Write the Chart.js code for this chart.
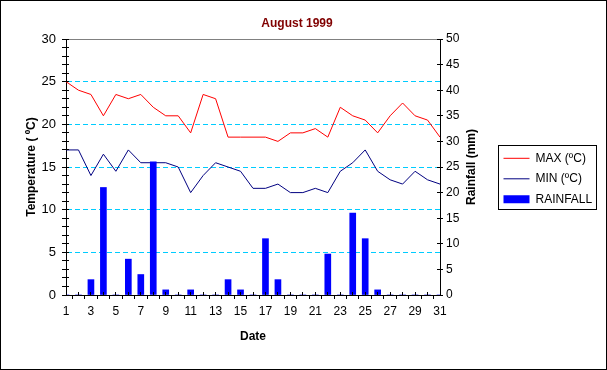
<!DOCTYPE html>
<html>
<head>
  <meta charset="UTF-8">
  <title>August 1999</title>
  <script src="https://cdnjs.cloudflare.com/ajax/libs/Chart.js/4.4.1/chart.umd.min.js"></script>
  <style>
    body { margin: 0; background: #fff; }
  </style>
</head>
<body>
  <canvas id="chart" width="607" height="370"></canvas>
  <script>
    // data
    var days = ['1','2','3','4','5','6','7','8','9','10','11','12','13','14','15','16',
                '17','18','19','20','21','22','23','24','25','26','27','28','29','30','31'];
    var maxTemp = [25, 24, 23.5, 21, 23.5, 23, 23.5, 22, 21, 21, 19, 23.5, 23, 18.5, 18.5, 18.5,
                   18.5, 18, 19, 19, 19.5, 18.5, 22, 21, 20.5, 19, 21, 22.5, 21, 20.5, 18.5];
    var minTemp = [17, 17, 14, 16.5, 14.5, 17, 15.5, 15.5, 15.5, 15, 12, 14, 15.5, 15, 14.5, 12.5,
                   12.5, 13, 12, 12, 12.5, 12, 14.5, 15.5, 17, 14.5, 13.5, 13, 14.5, 13.5, 13];
    var rainfall = [0, 0, 3, 21, 0, 7, 4, 26, 1, 0, 1, 0, 0, 3, 1, 0,
                    11, 3, 0, 0, 0, 8, 0, 16, 11, 1, 0, 0, 0, 0, 0];

    var FONT = "'Liberation Sans', Arial, sans-serif";
    var PAD_RIGHT = 13;
    Chart.defaults.font.family = FONT;
    Chart.defaults.font.size = 12;
    Chart.defaults.color = '#000';

    function align(p) { return Math.round(p - 0.5) + 0.5; }

    // outer frame, grey top line, inner half of the tick marks, right title, legend frame
    var extras = {
      id: 'extras',
      afterDraw: function(chart) {
        var ctx = chart.ctx, a = chart.chartArea;
        var x = chart.scales.x, y = chart.scales.y, y1 = chart.scales.y1;
        ctx.save();
        ctx.lineWidth = 1;

        ctx.strokeStyle = '#808080';
        ctx.beginPath();
        ctx.moveTo(a.left, align(a.top));
        ctx.lineTo(a.right, align(a.top));
        ctx.stroke();

        ctx.strokeStyle = '#000';
        ctx.beginPath();
        x.ticks.forEach(function(t, i) {
          var px = align(x.getPixelForTick(i));
          ctx.moveTo(px, x.top);
          ctx.lineTo(px, x.top - 3);
        });
        y.ticks.forEach(function(t, i) {
          var py = align(y.getPixelForTick(i));
          ctx.moveTo(y.right, py);
          ctx.lineTo(y.right + 3, py);
        });
        y1.ticks.forEach(function(t, i) {
          var py = align(y1.getPixelForTick(i));
          ctx.moveTo(y1.left, py);
          ctx.lineTo(y1.left - 3, py);
        });
        ctx.stroke();

        ctx.strokeRect(0.5, 0.5, chart.width - 1, chart.height - 1);

        var boxes = chart.legend.legendHitBoxes;
        if (boxes && boxes.length) {
          var l = Infinity, t = Infinity, r = -Infinity, b = -Infinity;
          boxes.forEach(function(h) {
            l = Math.min(l, h.left); t = Math.min(t, h.top);
            r = Math.max(r, h.left + h.width); b = Math.max(b, h.top + h.height);
          });
          ctx.strokeRect(align(l - 5), align(t - 6.5), Math.round(r - l + 9), Math.round(b - t + 11));
        }

        ctx.save();
        ctx.translate(y1.left + 31.5, (a.top + a.bottom) / 2);
        ctx.rotate(-Math.PI / 2);
        ctx.font = 'bold 12px ' + FONT;
        ctx.textAlign = 'center';
        ctx.textBaseline = 'middle';
        ctx.fillStyle = '#000';
        ctx.fillText('Rainfall (mm)', 0, 0);
        ctx.restore();

        ctx.restore();
      }
    };

    new Chart(document.getElementById('chart'), {
      type: 'bar',
      data: {
        labels: days,
        datasets: [{
          type: 'line',
          label: 'MAX (ºC)',
          data: maxTemp,
          borderColor: '#ff0000',
          backgroundColor: '#ff0000',
          borderWidth: 1,
          pointRadius: 0,
          tension: 0,
          yAxisID: 'y',
          order: 2
        }, {
          type: 'line',
          label: 'MIN (ºC)',
          data: minTemp,
          borderColor: '#000080',
          backgroundColor: '#000080',
          borderWidth: 1,
          pointRadius: 0,
          tension: 0,
          yAxisID: 'y',
          order: 2
        }, {
          type: 'bar',
          label: 'RAINFALL',
          data: rainfall,
          backgroundColor: '#0000ff',
          borderWidth: 0,
          barThickness: 6,
          yAxisID: 'y1',
          order: 1
        }]
      },
      options: {
        responsive: false,
        animation: false,
        devicePixelRatio: 1,
        layout: { padding: { top: 0, left: 0, right: PAD_RIGHT, bottom: 12.4 } },
        plugins: {
          tooltip: { enabled: false },
          title: {
            display: true,
            text: 'August 1999',
            color: '#800000',
            font: { size: 12, weight: 'bold' },
            padding: { top: 16, bottom: 8.6 }
          },
          legend: {
            position: 'right',
            labels: {
              usePointStyle: true,
              pointStyleWidth: 26,
              boxHeight: 8,
              padding: 8.5,
              color: '#000',
              font: { size: 12 },
              generateLabels: function(chart) {
                return chart.data.datasets.map(function(ds, i) {
                  var isLine = ds.type === 'line';
                  return {
                    text: ds.label,
                    datasetIndex: i,
                    fillStyle: isLine ? ds.borderColor : ds.backgroundColor,
                    strokeStyle: isLine ? ds.borderColor : ds.backgroundColor,
                    lineWidth: isLine ? 1 : 0,
                    pointStyle: isLine ? 'line' : 'rect',
                    hidden: false
                  };
                });
              }
            }
          }
        },
        scales: {
          x: {
            offset: false,
            grid: { drawOnChartArea: false, color: '#000', tickColor: '#000', tickLength: 4 },
            border: { color: '#000' },
            ticks: {
              autoSkip: false,
              maxRotation: 0,
              padding: 5.5,
              callback: function(v, i) { return i % 2 === 0 ? days[i] : ''; }
            },
            title: {
              display: true,
              text: 'Date',
              font: { size: 12, weight: 'bold' },
              padding: { top: 0, bottom: 13.4 }
            },
            afterFit: function(scale) { scale.height = 62.6; }
          },
          y: {
            position: 'left',
            min: 0,
            max: 30,
            grid: {
              color: function(c) {
                var v = c.tick ? c.tick.value : 0;
                return (v % 5 === 0 && v > 0 && v < 30) ? '#00ccff' : 'rgba(0,0,0,0)';
              },
              tickColor: '#000',
              tickLength: 4
            },
            border: { color: '#000', dash: [5, 3] },
            ticks: {
              stepSize: 1,
              autoSkip: false,
              padding: 6,
              font: { size: 13 },
              callback: function(v) { return v % 5 === 0 ? v : ''; }
            },
            title: {
              display: true,
              text: 'Temperature ( ºC)',
              font: { size: 12, weight: 'bold' },
              padding: { top: 24.3, bottom: 0 }
            },
            afterFit: function(scale) { scale.width = 66; }
          },
          y1: {
            position: 'right',
            min: 0,
            max: 50,
            grid: { drawOnChartArea: false, color: '#000', tickColor: '#000', tickLength: 3 },
            border: { color: '#000' },
            ticks: { stepSize: 5, autoSkip: false, padding: 3 },
            afterFit: function(scale) {
              var lw = scale.chart.legend ? scale.chart.legend.width : 108;
              scale.width = 607 - PAD_RIGHT - lw - 440;
            }
          }
        }
      },
      plugins: [extras]
    });
  </script>
</body>
</html>
